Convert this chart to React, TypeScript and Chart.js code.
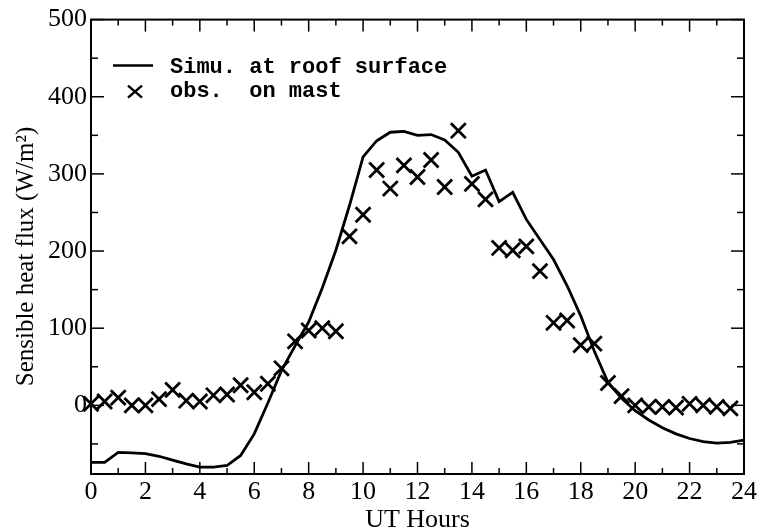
import React, { useEffect, useRef } from "react";
import { Chart, registerables } from "chart.js";

Chart.register(...registerables);

// ---- data ----
const simHours = [
  0, 0.5, 1, 1.5, 2, 2.5, 3, 3.5, 4, 4.5, 5, 5.5, 6, 6.5, 7, 7.5, 8, 8.5, 9, 9.5,
  10, 10.5, 11, 11.5, 12, 12.5, 13, 13.5, 14, 14.5, 15, 15.5, 16, 16.5, 17, 17.5,
  18, 18.5, 19, 19.5, 20, 20.5, 21, 21.5, 22, 22.5, 23, 23.5, 24,
];
const simFlux = [
  -74, -74, -61, -61.5, -62.5, -66, -71, -76, -80, -80, -78, -65, -37, 3, 45, 77,
  108, 152, 201, 259, 322, 343, 354, 355, 350, 351, 344, 328, 297, 305, 264, 276,
  241, 215, 189, 155, 116, 70, 30, 9, -7, -19, -29, -37, -43, -47, -49, -48, -45,
];
const obsHours = [
  0, 0.5, 1, 1.5, 2, 2.5, 3, 3.5, 4, 4.5, 5, 5.5, 6, 6.5, 7, 7.5, 8, 8.5, 9, 9.5,
  10, 10.5, 11, 11.5, 12, 12.5, 13, 13.5, 14, 14.5, 15, 15.5, 16, 16.5, 17, 17.5,
  18, 18.5, 19, 19.5, 20, 20.5, 21, 21.5, 22, 22.5, 23, 23.5,
];
const obsFlux = [
  2, 5, 10, 0, 0, 8, 20, 6, 5, 13, 14, 26, 17, 28, 48, 83, 97, 100, 96, 219,
  247, 305, 281, 311, 296, 318, 283, 356, 287, 267, 204, 201, 206, 174, 107, 110,
  78, 80, 29, 12, 0, -2, -2, -3, 2, 0, -2, -4,
];

const xMajorTicks = [0, 2, 4, 6, 8, 10, 12, 14, 16, 18, 20, 22, 24];
const xMinorTicks = [1, 3, 5, 7, 9, 11, 13, 15, 17, 19, 21, 23];
const yMajorTicks = [0, 100, 200, 300, 400, 500];
const yMinorTicks = [-50, 50, 150, 250, 350, 450];
const xMin = 0;
const xMax = 24;
const yMin = -89;
const yMax = 500;

const simLabel = "Simu. at roof surface";
const obsLabel = "obs.  on mast";
const xTitle = "UT Hours";
const yTitle = "Sensible heat flux (W/m²)";

const SERIF = "'Liberation Serif', 'Times New Roman', serif";
const MONO = "'Liberation Mono', 'Courier New', monospace";

const decorPlugin = {
  id: "decor",
  afterDraw(chart: any) {
    const { ctx, chartArea: a, scales } = chart;
    const x = scales.x;
    const y = scales.y;
    ctx.save();
    ctx.strokeStyle = "#000";
    ctx.fillStyle = "#000";
    const seg = (x1: number, y1: number, x2: number, y2: number) => {
      ctx.beginPath();
      ctx.moveTo(x1, y1);
      ctx.lineTo(x2, y2);
      ctx.stroke();
    };
    ctx.lineWidth = 1.5;
    const xt = (vals: number[], len: number) =>
      vals.forEach((v) => {
        const px = x.getPixelForValue(v);
        seg(px, a.bottom, px, a.bottom - len);
        seg(px, a.top, px, a.top + len);
      });
    const yt = (vals: number[], len: number) =>
      vals.forEach((v) => {
        const py = y.getPixelForValue(v);
        seg(a.left, py, a.left + len, py);
        seg(a.right, py, a.right - len, py);
      });
    xt(xMajorTicks, 12);
    xt(xMinorTicks, 6);
    yt(yMajorTicks, 13);
    yt(yMinorTicks, 7);

    ctx.lineWidth = 2;
    ctx.strokeRect(a.left, a.top, a.right - a.left, a.bottom - a.top);

    // legend
    ctx.lineWidth = 2.5;
    seg(a.left + 22, a.top + 46, a.left + 62, a.top + 46);
    const cx = a.left + 44;
    const cy = a.top + 72;
    seg(cx - 7, cy - 6, cx + 7, cy + 6);
    seg(cx - 7, cy + 6, cx + 7, cy - 6);
    ctx.font = `bold 22px ${MONO}`;
    ctx.textAlign = "left";
    ctx.textBaseline = "alphabetic";
    ctx.fillText(simLabel, a.left + 79, a.top + 53.5);
    ctx.fillText(obsLabel, a.left + 79, a.top + 77);

    // axis titles
    ctx.font = `26px ${SERIF}`;
    ctx.textAlign = "center";
    ctx.fillText(xTitle, (a.left + a.right) / 2, 527);
    ctx.translate(33, 256.5);
    ctx.rotate(-Math.PI / 2);
    ctx.font = `25px ${SERIF}`;
    ctx.fillText(yTitle, 0, 0);
    ctx.restore();
  },
};

export default function App() {
  const ref = useRef<HTMLCanvasElement | null>(null);
  useEffect(() => {
    if (!ref.current) return;
    const chart = new Chart(ref.current, {
      type: "line",
      data: {
        datasets: [
          {
            label: simLabel,
            data: simHours.map((h, i) => ({ x: h, y: simFlux[i] })),
            borderColor: "#000",
            backgroundColor: "#000",
            borderWidth: 2.8,
            pointRadius: 0,
            tension: 0,
            fill: false,
          },
          {
            label: obsLabel,
            data: obsHours.map((h, i) => ({ x: h, y: obsFlux[i] })),
            showLine: false,
            pointStyle: "crossRot",
            pointRadius: 10.5,
            pointBorderWidth: 2.8,
            borderColor: "#000",
            backgroundColor: "#000",
            clip: false,
          } as any,
        ],
      },
      options: {
        animation: false,
        responsive: false,
        devicePixelRatio: 1,
        layout: { padding: { left: 0, top: 17, right: 15, bottom: 0 } },
        plugins: { legend: { display: false }, tooltip: { enabled: false } },
        scales: {
          x: {
            type: "linear",
            min: xMin,
            max: xMax,
            grid: { display: false, drawTicks: false },
            border: { display: false },
            afterBuildTicks: (s: any) => {
              s.ticks = xMajorTicks.map((v) => ({ value: v }));
            },
            afterFit: (s: any) => {
              s.height = 58;
            },
            ticks: {
              color: "#000",
              font: { family: SERIF, size: 26 },
              padding: 3,
              maxRotation: 0,
              autoSkip: false,
            },
          },
          y: {
            type: "linear",
            min: yMin,
            max: yMax,
            grid: { display: false, drawTicks: false },
            border: { display: false },
            afterBuildTicks: (s: any) => {
              s.ticks = yMajorTicks.map((v) => ({ value: v }));
            },
            afterFit: (s: any) => {
              s.width = 91;
            },
            ticks: {
              color: "#000",
              font: { family: SERIF, size: 26 },
              padding: 4,
              autoSkip: false,
            },
          },
        },
      },
      plugins: [decorPlugin],
    });
    return () => chart.destroy();
  }, []);
  return (
    <div style={{ position: "fixed", left: 0, top: 0, width: 760, height: 532, background: "#fff" }}>
      <canvas ref={ref} width={760} height={532} style={{ display: "block" }} />
    </div>
  );
}
